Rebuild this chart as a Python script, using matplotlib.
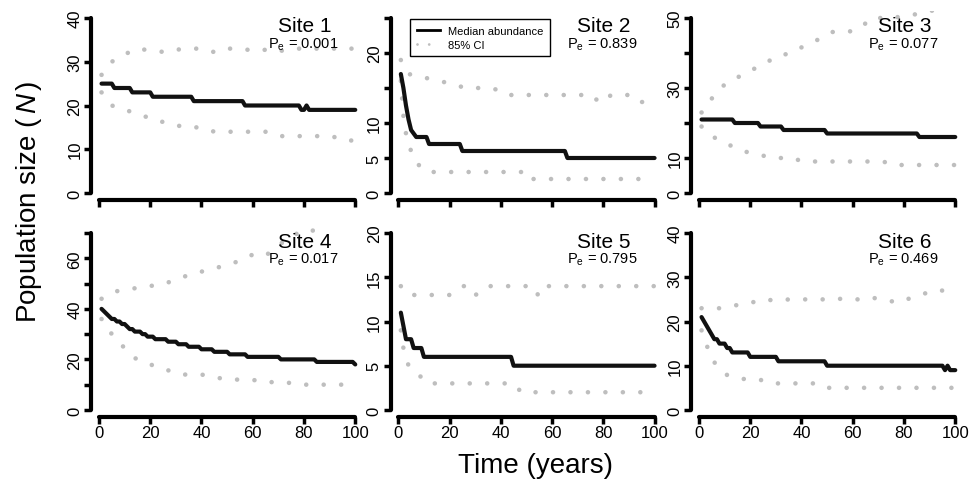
import numpy as np
import matplotlib
matplotlib.use('Agg')
import matplotlib.pyplot as plt
from matplotlib.lines import Line2D

plt.rcParams['font.family'] = ['Liberation Sans', 'DejaVu Sans']
plt.rcParams['mathtext.fontset'] = 'custom'
plt.rcParams['mathtext.rm'] = 'Liberation Sans'
plt.rcParams['mathtext.it'] = 'Liberation Sans:italic'

# ---------------- data ----------------
site_names = ['Site 1', 'Site 2', 'Site 3', 'Site 4', 'Site 5', 'Site 6']
pe_values = ['0.001', '0.839', '0.077', '0.017', '0.795', '0.469']
y_max = [40, 25, 50, 70, 20, 40]
y_ticks = [
    [0, 10, 20, 30, 40],
    [0, 5, 10, 15, 20, 25],
    [0, 10, 20, 30, 40, 50],
    [0, 10, 20, 30, 40, 50, 60, 70],
    [0, 5, 10, 15, 20],
    [0, 10, 20, 30, 40],
]
y_ticklabels = [
    ['0', '10', '20', '30', '40'],
    ['0', '5', '10', '', '20', ''],
    ['0', '10', '', '30', '', '50'],
    ['0', '', '20', '', '40', '', '60', ''],
    ['0', '5', '10', '15', '20'],
    ['0', '10', '20', '30', '40'],
]
x_ticks = [0, 20, 40, 60, 80, 100]

# Median abundance: year at which each level starts, and the level
s1_med_start = [1, 6, 13, 21, 37, 57, 79, 81, 82]
s1_med_val = [25, 24, 23, 22, 21, 20, 19, 20, 19]
s2_med_start = [1, 2, 3, 4, 5, 6, 7, 12, 25, 66]
s2_med_val = [17, 15, 12.5, 10.5, 9, 8.5, 8, 7, 6, 5]
s3_med_start = [1, 14, 24, 33, 50, 86]
s3_med_val = [21, 20, 19, 18, 17, 16]
s4_med_start = [1, 2, 3, 4, 5, 7, 9, 11, 12, 14, 17, 19, 22, 27, 31, 35, 40, 45, 51, 58, 71, 85, 100]
s4_med_val = [40, 39, 38, 37, 36, 35, 34, 33, 32, 31, 30, 29, 28, 27, 26, 25, 24, 23, 22, 21, 20, 19, 18]
s5_med_start = [1, 2, 3, 6, 10, 45]
s5_med_val = [11, 9.5, 8, 7, 6, 5]
s6_med_start = [1, 2, 3, 4, 5, 6, 8, 11, 13, 20, 31, 50, 96, 97, 98]
s6_med_val = [21, 20, 19, 18, 17, 16, 15, 14, 13, 12, 11, 10, 9, 10, 9]

# 85% CI (upper / lower)
s1_up_x = [1, 5, 10, 15, 21, 26, 31, 35, 40, 45, 49, 55, 62, 67, 71, 77, 82, 88, 94, 100]
s1_up_y = [27, 30, 31.7, 33, 32.5, 32.2, 32.8, 33, 33, 32.2, 33, 33, 32.4, 33, 32.5, 33, 33, 33, 33, 33]
s1_lo_x = [1, 5, 10, 16, 22, 28, 33, 40, 45, 52, 58, 65, 70, 78, 85, 91, 95, 100]
s1_lo_y = [23, 20, 19, 18, 16.5, 16, 15, 15, 14, 14, 14, 14, 13, 13, 13, 13, 12, 12]

s2_up_x = [1, 4, 10, 16, 22, 26, 36, 39, 42, 76, 78, 80, 83, 90, 93, 100]
s2_up_y = [19, 17, 16.5, 16, 15.5, 15, 15, 14.7, 14, 14, 13, 13, 14, 14, 13, 13]
s2_lo_x = [1, 2, 3, 4, 5, 6, 8, 11, 49, 50, 100]
s2_lo_y = [16, 11, 8.5, 7, 6, 5, 4, 3, 3, 2, 2]

s3_up_x = [1, 5, 10, 15, 20, 25, 30, 36, 41, 47, 52, 58, 63, 67, 75, 80, 84, 88, 92, 100]
s3_up_y = [23, 27, 31, 33, 35, 36.6, 39, 40, 42, 44, 46, 46, 47, 50, 50, 50.5, 51, 51.5, 52.3, 54]
s3_lo_x = [1, 5.6, 11, 17, 23, 29, 37, 40, 72, 75, 100]
s3_lo_y = [19, 16, 14, 12, 11, 10, 10, 9, 9, 8, 8]

s4_up_x = [1, 7, 13, 19.5, 25, 31, 36, 41, 46, 51, 55.5, 60, 65, 69.5, 76.6, 81.8, 85.6, 90, 100]
s4_up_y = [44, 47, 48, 49, 49.7, 52, 53.7, 55, 56.3, 57.6, 59.3, 61.5, 61, 64.8, 69.7, 69.7, 72.7, 75, 78]
s4_lo_x = [1, 5, 9.5, 14, 20, 26, 32, 40, 45, 50, 60, 63, 73, 77, 100]
s4_lo_y = [36, 30, 25, 20.5, 18, 16, 14, 14, 13, 12, 12, 11, 11, 10, 10]

s5_up_x = [1, 4, 20, 22.5, 25, 28, 30, 32.5, 35, 53, 54.5, 56, 100]
s5_up_y = [14, 13, 13, 13.6, 14, 14, 13, 13.3, 14, 14, 13, 14, 14]
s5_lo_x = [1, 2, 4, 8, 11, 45, 48, 100]
s5_lo_y = [9, 7, 5, 4, 3, 3, 2, 2]

s6_up_x = [1, 8, 13.4, 19, 24.7, 31, 35, 40, 45, 52, 57, 62, 66.4, 71.4, 77.6, 81, 86.7, 91, 100]
s6_up_y = [23, 23, 23.6, 24, 25, 24.7, 25, 25, 25, 25, 25.2, 25, 25.5, 25, 24.3, 25, 26, 27, 27]
s6_lo_x = [1, 3.4, 6.2, 10.5, 16, 23, 28, 45, 48, 100]
s6_lo_y = [18, 14, 10.6, 8, 7, 7, 6, 6, 5, 5]

med_starts = [s1_med_start, s2_med_start, s3_med_start, s4_med_start, s5_med_start, s6_med_start]
med_vals = [s1_med_val, s2_med_val, s3_med_val, s4_med_val, s5_med_val, s6_med_val]
up_x = [s1_up_x, s2_up_x, s3_up_x, s4_up_x, s5_up_x, s6_up_x]
up_y = [s1_up_y, s2_up_y, s3_up_y, s4_up_y, s5_up_y, s6_up_y]
lo_x = [s1_lo_x, s2_lo_x, s3_lo_x, s4_lo_x, s5_lo_x, s6_lo_x]
lo_y = [s1_lo_y, s2_lo_y, s3_lo_y, s4_lo_y, s5_lo_y, s6_lo_y]


def step_line(starts, vals, last=100):
    xs, ys = [], []
    for i, (s, v) in enumerate(zip(starts, vals)):
        e = starts[i + 1] - 1 if i + 1 < len(starts) else last
        xs += [s, e]
        ys += [v, v]
    return xs, ys


# ---------------- figure ----------------
W, H = 971, 481
fig = plt.figure(figsize=(W / 100, H / 100), dpi=100)

col_left = [91.4, 390.7, 691.4]
ax_w = 274.0
rows = [(12, 201), (227, 418)]

GRAY = '#BEBEBE'
dot_style = (0, (0.01, 3.8))

for i in range(6):
    r, c = divmod(i, 3)
    top, bot = rows[r]
    ax = fig.add_axes([col_left[c] / W, 1 - bot / H, ax_w / W, (bot - top) / H])
    ym = y_max[i]
    ax.set_xlim(1 - 0.04 * 99, 100 + 0.04 * 99)
    ax.set_ylim(-0.04 * ym, ym * 1.04)

    ax.plot(up_x[i], up_y[i], color=GRAY, lw=3.3, linestyle=dot_style,
            dash_capstyle='round')
    ax.plot(lo_x[i], lo_y[i], color=GRAY, lw=3.3, linestyle=dot_style,
            dash_capstyle='round')
    mx, my = step_line(med_starts[i], med_vals[i])
    ax.plot(mx, my, color='#111111', lw=3, solid_capstyle='round',
            solid_joinstyle='round')

    for s in ['top', 'right']:
        ax.spines[s].set_visible(False)
    for s in ['left', 'bottom']:
        ax.spines[s].set_linewidth(3)
        ax.spines[s].set_capstyle('round')
    ax.spines['left'].set_bounds(0, ym)
    ax.spines['bottom'].set_bounds(0, 100)

    ax.set_xticks(x_ticks)
    ax.set_yticks(y_ticks[i])
    ax.set_yticklabels(y_ticklabels[i], rotation=90, va='center')
    ax.tick_params(axis='both', direction='out', length=5, width=2.5,
                   labelsize=12, colors='black')
    ax.tick_params(axis='y', pad=1.5)
    ax.tick_params(axis='x', pad=0.5)
    if r == 0:
        ax.tick_params(axis='x', labelbottom=False)
    else:
        ax.set_xticklabels([str(t) for t in x_ticks])
    ax.patch.set_visible(False)

    hh = bot - top
    ax.text(0.777, 1 - 20.5 / hh, site_names[i], transform=ax.transAxes,
            ha='center', va='baseline', fontsize=15)
    ax.text(0.772, 1 - 36.5 / hh, r'$\mathregular{P_e}$ = ' + pe_values[i],
            transform=ax.transAxes, ha='center', va='baseline', fontsize=10.5)

    if i == 1:
        handles = [Line2D([], [], color='black', lw=2),
                   Line2D([], [], color=GRAY, lw=2, linestyle=(0, (0.01, 4.2)),
                          dash_capstyle='round')]
        leg = ax.legend(handles, ['Median abundance', '85% CI'],
                        loc='upper left',
                        bbox_to_anchor=((410 - 390.7) / ax_w, (bot - 20) / (bot - top)),
                        fontsize=8, handlelength=2.1, handletextpad=0.75,
                        borderpad=0.6, labelspacing=0.35, borderaxespad=0,
                        fancybox=False, framealpha=1, edgecolor='black')
        leg.get_frame().set_linewidth(1.0)

fig.text(535 / W, 1 - 473 / H, 'Time (years)', ha='center', va='baseline',
         fontsize=20)
fig.text(29 / W, 1 - 202 / H, r'Population size ($\,\mathit{N}\,$)',
         rotation=90, ha='center', va='center', fontsize=20)

fig.savefig('out.png', dpi=100)
